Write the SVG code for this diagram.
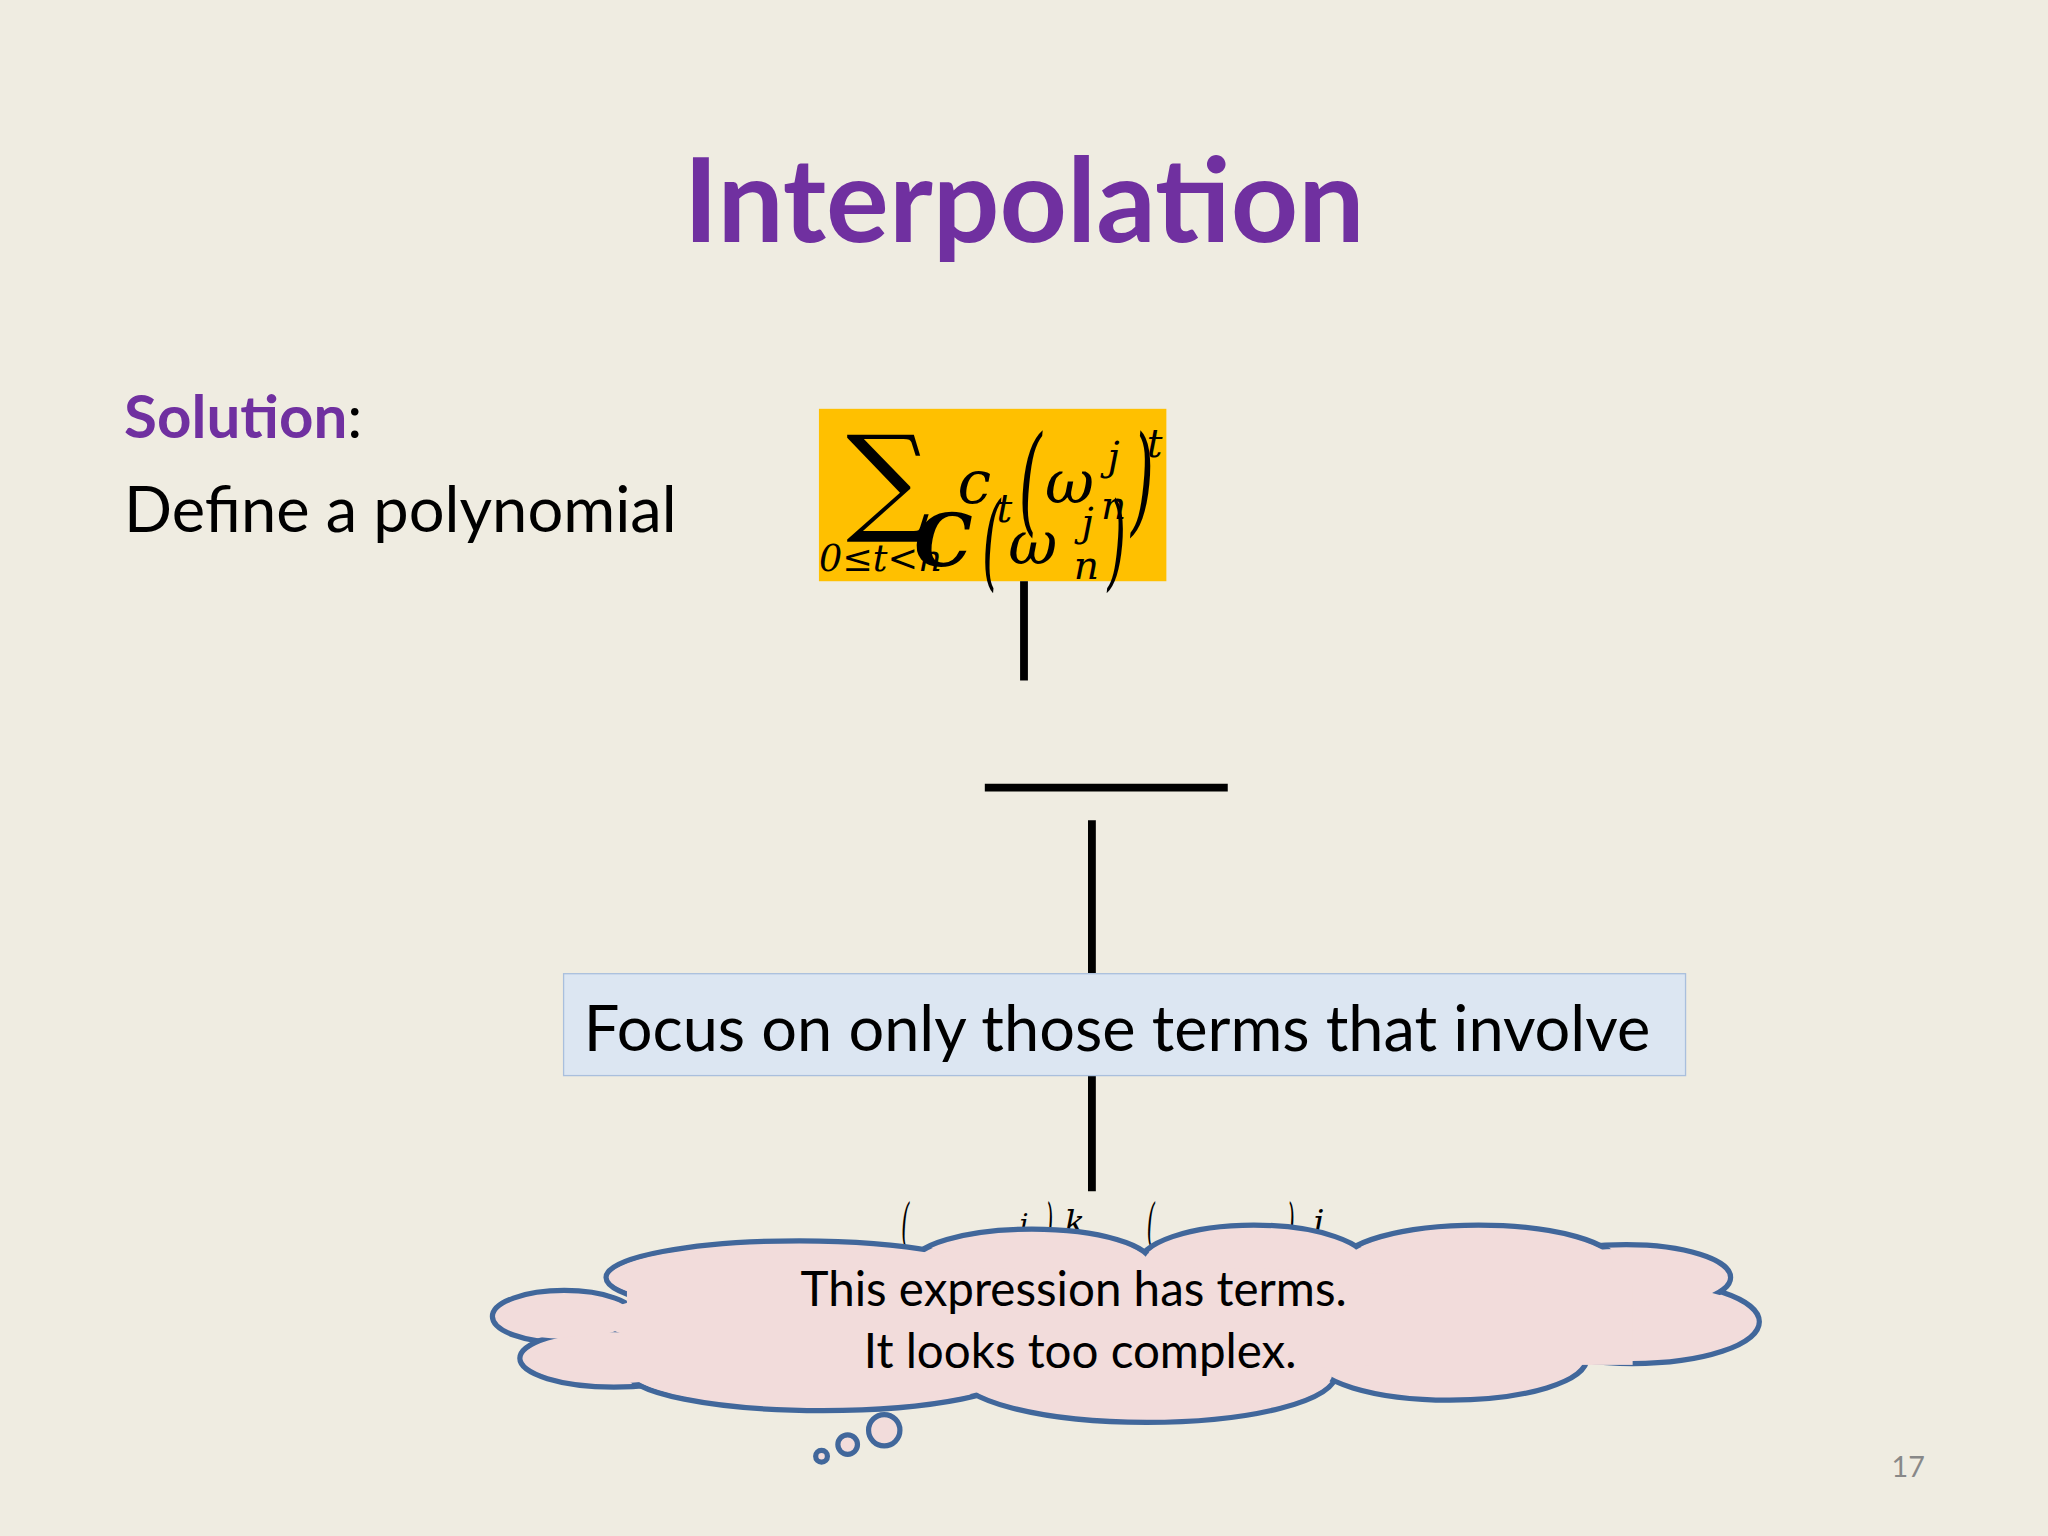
<svg xmlns="http://www.w3.org/2000/svg" width="2048" height="1536" viewBox="0 0 2048 1536">
<style>
.ln{stroke:#000;stroke-width:6;fill:none}
.m{font-family:"DejaVu Serif",serif;font-style:italic;fill:#000}
.s{font-family:Lato,"Liberation Sans",sans-serif}
.cl{fill:#F2DCDB;stroke:#41679B;stroke-width:4}
.cf{fill:#F2DCDB}
</style>
<rect width="2048" height="1536" fill="#EFECE1"/>
<g transform="scale(1.30612)">
<g id="title"><text x="784" y="185" text-anchor="middle" class="s" font-size="90" font-weight="bold" fill="#7030A0">Interpolation</text></g>
<g id="solution"><text x="95" y="335" class="s" font-size="46"><tspan font-weight="bold" fill="#7030A0">Solution</tspan><tspan fill="#000">:</tspan></text>
<text x="95" y="407" class="s" font-size="48.4" fill="#000">Define a polynomial</text></g>
<g id="formula">
<rect x="627" y="313" width="266" height="132" fill="#FFC000"/>
<text x="648" y="397" font-family="DejaVu Serif,serif" font-size="90">∑</text>
<text x="627" y="437" class="m" font-size="28" font-style="normal">0≤<tspan font-style="italic">t</tspan>&lt;<tspan font-style="italic">n</tspan></text>
<text x="733" y="385" class="m" font-size="46">c</text>
<text x="763" y="400" class="m" font-size="30">t</text>
<text x="780" y="398" class="m" font-size="90" font-style="normal" transform="translate(780 0) scale(0.5 1) translate(-780 0)">(</text>
<text x="800" y="385" class="m" font-size="46">ω</text>
<text x="848" y="360" class="m" font-size="30">j</text>
<text x="843" y="397" class="m" font-size="30">n</text>
<text x="866" y="398" class="m" font-size="90" font-style="normal" transform="translate(866 0) scale(0.5 1) translate(-866 0)">)</text>
<text x="878" y="350" class="m" font-size="30">t</text>
<text x="700" y="433" class="m" font-size="56" font-weight="bold">C</text>
<text x="752" y="442" class="m" font-size="80" font-style="normal" transform="translate(752 0) scale(0.45 1) translate(-752 0)">(</text>
<text x="772" y="432" class="m" font-size="46">ω</text>
<text x="828" y="410" class="m" font-size="30">j</text>
<text x="822" y="443" class="m" font-size="30">n</text>
<text x="848" y="442" class="m" font-size="80" font-style="normal" transform="translate(848 0) scale(0.45 1) translate(-848 0)">)</text>
</g>
<g id="connectors">
<line class="ln" x1="784" y1="445" x2="784" y2="521"/>
<line class="ln" x1="754" y1="603" x2="940" y2="603"/>
<line class="ln" x1="836" y1="628" x2="836" y2="745"/>
<line class="ln" x1="836" y1="823" x2="836" y2="912"/>
</g>
<g id="focus">
<rect x="431.5" y="745.5" width="859" height="78" fill="#DCE6F2" stroke="#A9BFDD" stroke-width="1"/>
<text x="447" y="805" class="s" font-size="48.3" fill="#000">Focus on only those terms that involve</text>
</g>
<g id="hidden">
<text x="690" y="950" class="m" font-size="40" font-style="normal" transform="translate(690 0) scale(0.4 1) translate(-690 0)">(</text>
<text x="780" y="945" class="m" font-size="22">j</text>
<text x="800" y="950" class="m" font-size="40" font-style="normal" transform="translate(800 0) scale(0.4 1) translate(-800 0)">)</text>
<text x="815" y="945" class="m" font-size="26">k</text>
<text x="878" y="950" class="m" font-size="40" font-style="normal" transform="translate(878 0) scale(0.4 1) translate(-878 0)">(</text>
<text x="985" y="950" class="m" font-size="40" font-style="normal" transform="translate(985 0) scale(0.4 1) translate(-985 0)">)</text>
<text x="1005" y="945" class="m" font-size="26">j</text>
</g>
<g id="cloud">
<g class="cl">
<ellipse cx="432" cy="1008" rx="55" ry="20"/>
<ellipse cx="470" cy="1040" rx="72" ry="22"/>
<ellipse cx="630" cy="1050" rx="150" ry="30"/>
<ellipse cx="878" cy="1052" rx="145" ry="37"/>
<ellipse cx="1110" cy="1040" rx="105" ry="32"/>
<ellipse cx="1250" cy="1012" rx="97" ry="32"/>
<ellipse cx="1245" cy="978" rx="80" ry="25"/>
<ellipse cx="1132" cy="968" rx="106" ry="30"/>
<ellipse cx="960" cy="968" rx="88" ry="30"/>
<ellipse cx="790" cy="968" rx="92" ry="27"/>
<ellipse cx="612" cy="978" rx="148" ry="28"/>
</g>
<g class="cf">
<ellipse cx="432" cy="1008" rx="52" ry="17"/>
<ellipse cx="470" cy="1040" rx="69" ry="19"/>
<ellipse cx="630" cy="1050" rx="147" ry="27"/>
<ellipse cx="878" cy="1052" rx="142" ry="34"/>
<ellipse cx="1110" cy="1040" rx="102" ry="29"/>
<ellipse cx="1250" cy="1012" rx="94" ry="29"/>
<ellipse cx="1245" cy="978" rx="77" ry="22"/>
<ellipse cx="1132" cy="968" rx="103" ry="27"/>
<ellipse cx="960" cy="968" rx="85" ry="27"/>
<ellipse cx="790" cy="968" rx="89" ry="24"/>
<ellipse cx="612" cy="978" rx="145" ry="25"/>
<ellipse cx="860" cy="1010" rx="400" ry="40"/>
<rect x="480" y="985" width="770" height="60"/>
</g>
<circle class="cl" cx="677" cy="1095" r="12"/>
<circle class="cl" cx="649" cy="1106" r="7.5"/>
<circle class="cl" cx="629" cy="1115" r="4.5"/>
<text x="822" y="1000" text-anchor="middle" class="s" font-size="36.4" fill="#000">This expression has terms.</text>
<text x="827" y="1047" text-anchor="middle" class="s" font-size="36.4" fill="#000">It looks too complex.</text>
</g>
<g id="page"><text x="1461" y="1131" text-anchor="middle" class="s" font-size="22" fill="#888">17</text></g>
</g>
</svg>
